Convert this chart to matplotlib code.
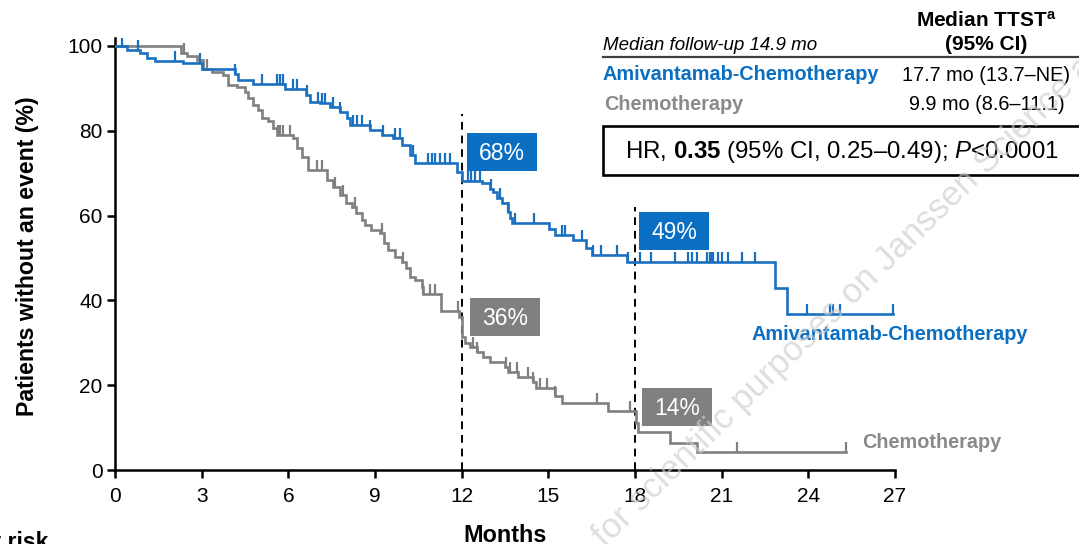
import numpy as np
import matplotlib
matplotlib.use("Agg")
import matplotlib.pyplot as plt
from matplotlib.patches import Rectangle

plt.rcParams['font.family'] = ['Liberation Sans', 'DejaVu Sans']
plt.rcParams['mathtext.fontset'] = 'custom'
plt.rcParams['mathtext.rm'] = 'Liberation Sans'
plt.rcParams['mathtext.bf'] = 'Liberation Sans:bold'
plt.rcParams['mathtext.it'] = 'Liberation Sans:italic'

# ---------------- data ----------------
ami_t = [0.0, 0.40, 0.87, 1.10, 1.38, 2.36, 3.00, 4.15, 4.27, 4.78,
         5.90, 6.60, 6.75, 7.10, 7.44, 7.79, 8.02, 8.13, 8.83, 9.23,
         9.63, 9.92, 10.20, 10.38, 11.84, 12.00, 12.69, 12.98, 13.09, 13.21,
         13.38, 13.61, 13.69, 13.73, 15.02, 15.23, 15.86, 16.32, 16.50, 17.71,
         22.85, 23.25]
ami_s = [100.0, 99.0, 98.3, 97.1, 96.5, 95.9, 94.5, 93.4, 92.0, 91.0,
         89.8, 88.4, 86.9, 86.5, 85.7, 84.5, 83.0, 81.4, 80.2, 79.0,
         78.2, 76.7, 74.3, 72.3, 70.3, 68.2, 67.6, 66.2, 65.6, 64.1,
         62.9, 60.9, 59.4, 58.2, 56.8, 55.4, 54.2, 52.3, 50.7, 49.1,
         42.9, 36.8]
ami_end = 26.94
ami_cens = [0.23, 0.81, 2.08, 2.94, 4.15, 5.08, 5.60, 5.71, 5.82, 6.17, 6.29,
            6.63, 7.04, 7.15, 7.27, 7.56, 7.79, 8.25, 8.36, 8.54, 8.83, 9.29,
            9.69, 9.86, 10.33, 10.85, 10.96, 11.08, 11.25, 11.42, 11.60, 12.23,
            12.34, 12.46, 12.63, 13.03, 13.33, 13.61, 13.85, 14.50, 15.46, 15.58,
            16.15, 16.56, 16.84, 17.36, 17.77, 18.17, 18.57, 19.38, 19.84, 19.96,
            20.13, 20.48, 20.59, 20.65, 20.71, 20.88, 21.00, 21.23, 21.69, 22.15,
            23.94, 24.75, 24.86, 25.10, 26.94]

chemo_t = [0.0, 2.30, 2.48, 2.83, 3.06, 3.35, 3.75, 3.92, 4.21, 4.50,
           4.60, 4.79, 4.96, 5.08, 5.31, 5.48, 5.60, 6.17, 6.29, 6.46,
           6.69, 7.33, 7.55, 7.79, 8.00, 8.20, 8.35, 8.54, 8.65, 8.85,
           9.18, 9.30, 9.45, 9.69, 9.92, 10.09, 10.21, 10.37, 10.61, 10.67,
           11.30, 11.90, 12.02, 12.11, 12.29, 12.52, 12.75, 12.98, 13.50, 13.61,
           13.96, 14.48, 14.59, 15.23, 15.46, 17.07, 18.05, 18.11, 19.21, 20.13]
chemo_s = [100.0, 98.4, 97.6, 96.7, 94.5, 93.9, 93.2, 90.8, 90.3, 89.2,
           87.7, 86.1, 84.9, 83.0, 82.2, 80.6, 79.0, 78.2, 75.9, 73.9,
           70.8, 68.4, 66.7, 64.8, 63.0, 62.0, 60.5, 59.0, 57.8, 56.6,
           55.8, 53.5, 51.9, 50.3, 49.1, 47.6, 45.6, 44.8, 43.2, 41.5,
           37.6, 36.0, 31.4, 29.9, 29.1, 27.9, 26.7, 25.5, 24.4, 23.2,
           22.0, 20.8, 19.3, 17.5, 15.9, 13.8, 11.0, 9.0, 6.4, 4.2]
chemo_end = 25.32
chemo_cens = [2.39, 3.17, 5.64, 5.71, 5.82, 6.06, 6.98, 7.15, 7.62, 7.90, 8.31,
              9.23, 9.97, 10.67, 10.90, 11.08, 11.88, 12.40, 12.52, 13.55, 13.67,
              13.90, 14.30, 14.48, 14.71, 14.94, 15.23, 16.67, 17.83, 21.52, 25.32]

landmark_t = [12, 12, 18, 18]
landmark_pct = [68, 36, 49, 14]
landmark_arm = ['ami', 'chemo', 'ami', 'chemo']
landmark_top = {12: 84, 18: 62}

x_ticks = [0, 3, 6, 9, 12, 15, 18, 21, 24, 27]
y_ticks = [0, 20, 40, 60, 80, 100]

arm_names = ['Amivantamab-Chemotherapy', 'Chemotherapy']
median_txt = ['17.7 mo (13.7–NE)', '9.9 mo (8.6–11.1)']

BLUE = '#1a70c0'
BLUE_BOX = '#0a6fc2'
GRAY = '#808080'
GRAY_TXT = '#8a8a8a'

W, H = 1079, 544
fig = plt.figure(figsize=(W / 100, H / 100), dpi=100)

def fx(px):
    return px / W

def fy(py):
    return 1 - py / H

ax = fig.add_axes([fx(115), fy(470), fx(895) - fx(115), fy(37.5) - fy(470)])
ax.set_xlim(0, 27)
ax.set_ylim(0, 102)

def step_value(t, s, x):
    i = np.searchsorted(np.asarray(t), x, side='right') - 1
    return np.asarray(s)[i]

def draw_arm(t, s, end, cens, color):
    tx = np.append(t, end)
    sy = np.append(s, s[-1])
    ax.step(tx, sy, where='post', color=color, lw=1.9, solid_joinstyle='miter', zorder=3)
    cy = [step_value(t, s, c) for c in cens]
    ax.plot(cens, cy, ls='none', marker=2, markersize=7, markeredgewidth=1.6,
            color=color, zorder=3)

draw_arm(chemo_t, chemo_s, chemo_end, chemo_cens, GRAY)
draw_arm(ami_t, ami_s, ami_end, ami_cens, BLUE)

# landmark dashed lines
for xl, top in landmark_top.items():
    ax.plot([xl, xl], [0, top], color='black', lw=1.4, ls=(0, (4, 3)), zorder=2)

# landmark boxes
box_pos = {(12, 'ami'): (13.4, 75.0), (12, 'chemo'): (13.5, 36.1),
           (18, 'ami'): (19.35, 56.4), (18, 'chemo'): (19.45, 14.9)}
bw, bh = 2.42, 8.9
for lt, pct, arm in zip(landmark_t, landmark_pct, landmark_arm):
    cx, cy = box_pos[(lt, arm)]
    fc = BLUE_BOX if arm == 'ami' else GRAY
    ax.add_patch(Rectangle((cx - bw / 2, cy - bh / 2), bw, bh, facecolor=fc,
                           edgecolor='none', zorder=4))
    ax.text(cx, cy - 0.3, f'{pct}%', ha='center', va='center', color='white',
            fontsize=16.5, zorder=5)

# curve labels
ax.text(22.05, 32.0, arm_names[0], color=BLUE_BOX, fontsize=14.3, fontweight='bold',
        ha='left', va='center', clip_on=False)
ax.text(25.86, 6.4, arm_names[1], color=GRAY_TXT, fontsize=14.3, fontweight='bold',
        ha='left', va='center', clip_on=False)

# axes styling
for sp in ['top', 'right']:
    ax.spines[sp].set_visible(False)
for sp in ['left', 'bottom']:
    ax.spines[sp].set_linewidth(1.8)
ax.set_xticks(x_ticks)
ax.set_yticks(y_ticks)
ax.tick_params(axis='both', direction='out', length=6, width=1.8, labelsize=15)
ax.tick_params(axis='x', pad=6)
ax.tick_params(axis='y', pad=3)

fig.text(fx(28), fy(256.5), 'Patients without an event (%)', rotation=90,
         ha='center', va='center', fontsize=16.7, fontweight='bold')
fig.text(fx(505.5), fy(541.5), 'Months', ha='center', va='baseline',
         fontsize=16.8, fontweight='bold')
fig.text(fx(48), fy(549), 'No. at risk', ha='right', va='baseline',
         fontsize=16.5, fontweight='bold')

# legend table
fig.text(fx(986), fy(26.7), r'Median TTST$^{\mathbf{a}}$', ha='center', va='baseline',
         fontsize=15, fontweight='bold')
fig.text(fx(986.5), fy(50), '(95% CI)', ha='center', va='baseline',
         fontsize=15, fontweight='bold')
fig.text(fx(603), fy(49.5), 'Median follow-up 14.9 mo', ha='left', va='baseline',
         fontsize=13.5, style='italic')
fig.add_artist(plt.Line2D([fx(603), fx(1079)], [fy(57), fy(57)], color='#404040', lw=1.6))
fig.text(fx(603), fy(80), arm_names[0], ha='left', va='baseline', fontsize=14.3,
         fontweight='bold', color=BLUE_BOX)
fig.text(fx(986.5), fy(81), median_txt[0], ha='center', va='baseline', fontsize=14.3)
fig.text(fx(604), fy(109.5), arm_names[1], ha='left', va='baseline', fontsize=14.3,
         fontweight='bold', color=GRAY_TXT)
fig.text(fx(986.5), fy(110), median_txt[1], ha='center', va='baseline', fontsize=14.3)

fig.add_artist(Rectangle((fx(603), fy(175)), fx(1090) - fx(603), fy(126) - fy(175),
                         facecolor='white', edgecolor='black', lw=1.9,
                         transform=fig.transFigure))
fig.text(fx(841.7), fy(158.3), r'HR, $\mathbf{0.35}$ (95% CI, 0.25–0.49); $\mathit{P}$<0.0001',
         ha='center', va='baseline', fontsize=17.3)

# watermark
fig.text(fx(605), fy(548), 'for scientific purposes on Janssen Science and Medical',
         rotation=44.3, rotation_mode='anchor', ha='left', va='baseline',
         fontsize=25, color='#cccccc', alpha=0.65, zorder=10)

fig.savefig('out.png', dpi=100)
